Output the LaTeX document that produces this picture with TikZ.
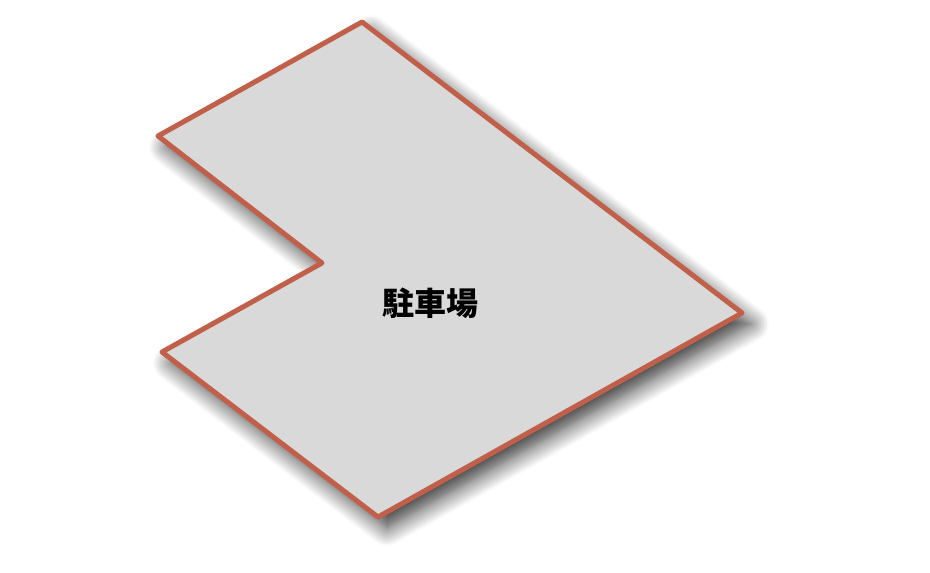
\documentclass[tikz,border=0pt]{standalone}
\usepackage{fontspec}
\newfontfamily\cjk{Noto Sans CJK JP}
\usetikzlibrary{shadows.blur}
\definecolor{lotfill}{HTML}{D9D9D9}
\definecolor{lotedge}{HTML}{C0604A}
\tikzset{
	lot/.style={fill=lotfill, draw=lotedge, line width=5pt, line join=round,
		blur shadow={shadow xshift=9pt, shadow yshift=-11pt, shadow blur radius=18pt, shadow blur steps=12, shadow opacity=80}},
	lotlabel/.style={font=\cjk\bfseries\fontsize{32}{36}\selectfont}
}
\begin{document}
\begin{tikzpicture}[x=1pt,y=-1pt]
	\useasboundingbox (0,0) rectangle (930,573);
	% corners of the lot
	\coordinate (top) at (362,22);
	\coordinate (east) at (742,313);
	\coordinate (south) at (378,517);
	\coordinate (sw) at (162,352);
	\coordinate (notch) at (322,263);
	\coordinate (nw) at (158,136);
	\path[lot] (top) -- (east) -- (south) -- (sw) -- (notch) -- (nw) -- cycle;
	\node[lotlabel] (lotname) at (430,303) {駐車場};
\end{tikzpicture}
\end{document}
